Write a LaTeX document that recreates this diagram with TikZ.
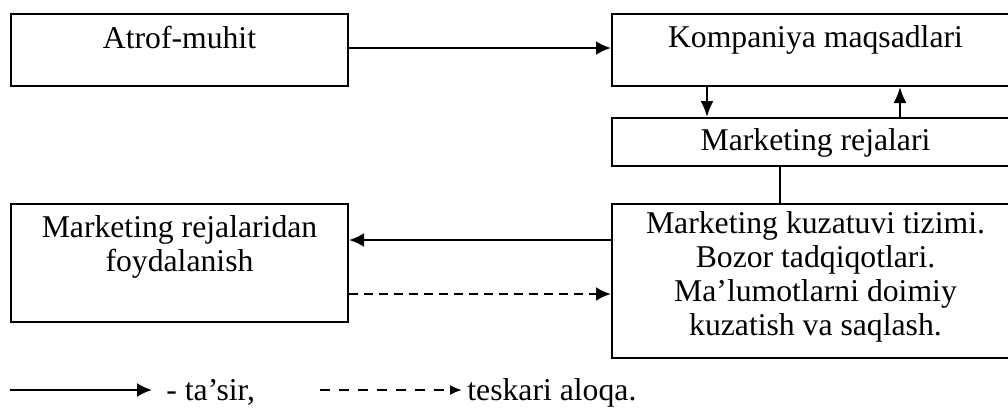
\documentclass[tikz,border=0pt]{standalone}
\usepackage{fontspec}
\setmainfont{Liberation Serif}
\usetikzlibrary{arrows.meta}
\tikzset{
  blok/.style={draw,line width=1pt,inner sep=0pt,align=center,font=\fontsize{15.85}{17}\selectfont},
  matn/.style={inner sep=0pt,font=\fontsize{15.85}{17}\selectfont},
  tasir/.style={line width=1.3pt,-{Latex[length=7.5pt,width=7pt]}},
  aloqa/.style={tasir,dash pattern=on 4.5pt off 3pt},
  tik/.style={line width=1pt,-{Latex[length=8pt,width=6.5pt]}},
}
\begin{document}
\begin{tikzpicture}[x=0.5pt,y=-0.5pt]
\useasboundingbox (0,0) rectangle (1008,414);
\node[blok,minimum width=168.5pt,minimum height=36pt,text height=10pt,text depth=12pt] (atrof) at (179.5,50) {Atrof-muhit};
\node[blok,minimum width=203.5pt,minimum height=36pt,text height=10pt,text depth=13pt] (maqsad) at (815.5,50) {Kompaniya maqsadlari};
\node[blok,minimum width=203.5pt,minimum height=24pt,text height=11.5pt,text depth=3.5pt] (reja) at (815.5,142) {Marketing rejalari};
\node[blok,minimum width=168.5pt,minimum height=59pt,text height=12pt,text depth=4pt] (foyda) at (179.5,263) {Marketing rejalaridan\\foydalanish};
\node[blok,minimum width=203.5pt,minimum height=77pt,text height=58pt,text depth=4pt] (kuzat) at (815.5,281) {Marketing kuzatuvi tizimi.\\Bozor tadqiqotlari.\\Ma’lumotlarni doimiy\\kuzatish va saqlash.};
\draw[tasir] (atrof.base -| atrof.east) -- (atrof.base -| maqsad.west);
\draw[tik] ([xshift=-54.25pt]maqsad.south) -- ([xshift=-54.25pt]reja.north);
\draw[tik] ([xshift=42.25pt]reja.north) -- ([xshift=42.25pt]maqsad.south);
\draw[line width=1pt] ([xshift=-17.75pt]reja.south) -- ([xshift=-17.75pt]kuzat.north);
\draw[tasir] ([yshift=20.5pt]kuzat.west) -- ([yshift=20.5pt]kuzat.west -| foyda.east);
\draw[aloqa] ([yshift=-6.5pt]kuzat.west -| foyda.east) -- ([yshift=-6.5pt]kuzat.west);
\coordinate (t1) at (10,390);
\coordinate (t2) at (152,390);
\coordinate (a1) at (320,390);
\coordinate (a2) at (462,390);
\draw[line width=1pt,-{Latex[length=7.5pt,width=7pt]}] (t1) -- (t2);
\draw[line width=1pt,dash pattern=on 5pt off 4.5pt,-{Latex[length=6pt,width=5pt]}] (a1) -- (a2);
\node[matn,anchor=base west] (tasirmatn) at (166,400) {- ta’sir,};
\node[matn,anchor=base west] (aloqamatn) at (467,400) {teskari aloqa.};
\end{tikzpicture}
\end{document}
